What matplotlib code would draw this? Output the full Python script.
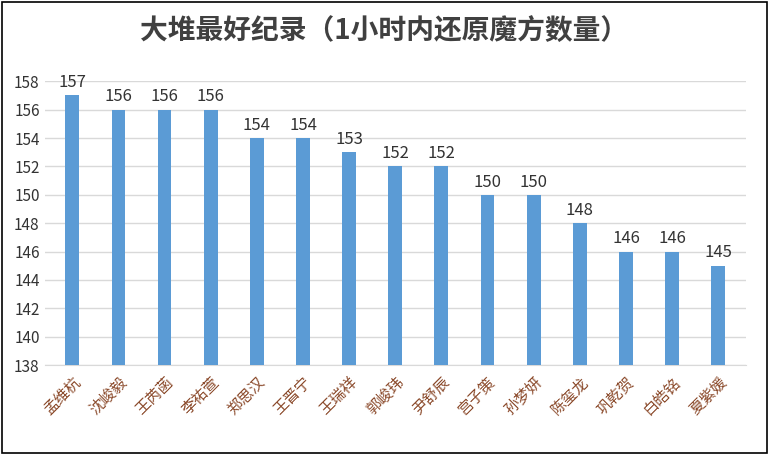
import matplotlib
matplotlib.use("Agg")
import matplotlib.pyplot as plt
from matplotlib.patches import Rectangle

names = ["孟维杭","沈峻毅","王芮菡","李祐萱","郑思汉","王晋宁","王瑞祥","郭峻玮","尹舒辰","宫子策","孙梦妍","陈玺龙","巩乾贺","白皓铭","夏紫媛"]
values = [157,156,156,156,154,154,153,152,152,150,150,148,146,146,145]
yticks = list(range(138, 159, 2))

plt.rcParams["font.family"] = "Noto Sans CJK SC"
fig = plt.figure(figsize=(7.69, 4.54), dpi=100)
ax = fig.add_axes([0.058, 0.196, 0.912, 0.625])
x = range(len(names))
ax.bar(x, values, width=0.3, color="#5B9BD5", zorder=3)
for i, v in zip(x, values):
    ax.text(i, v + 0.3, str(v), ha="center", va="bottom", fontsize=12, color="#333333")
ax.set_ylim(138, 158)
ax.set_xlim(-0.6, len(names) - 0.4)
ax.set_yticks(yticks)
ax.tick_params(axis="y", length=0, labelsize=11, colors="#333333")
ax.tick_params(axis="x", length=0, pad=6)
ax.set_xticks(list(x))
ax.set_xticklabels(names, rotation=45, ha="right", rotation_mode="anchor", fontsize=11, color="#8B4A2B")
ax.grid(axis="y", color="#D9D9D9", linewidth=1, zorder=0)
for s in ["top", "right", "left"]:
    ax.spines[s].set_visible(False)
ax.spines["bottom"].set_color("#D9D9D9")
fig.text(0.5, 0.93, "大堆最好纪录（1小时内还原魔方数量）", ha="center", va="center", fontsize=20, fontweight="semibold", color="#404040")
fig.patches.append(Rectangle((0.002, 0.003), 0.995, 0.993, transform=fig.transFigure, fill=False, edgecolor="black", linewidth=1.2))
fig.savefig("out.png", dpi=100)
